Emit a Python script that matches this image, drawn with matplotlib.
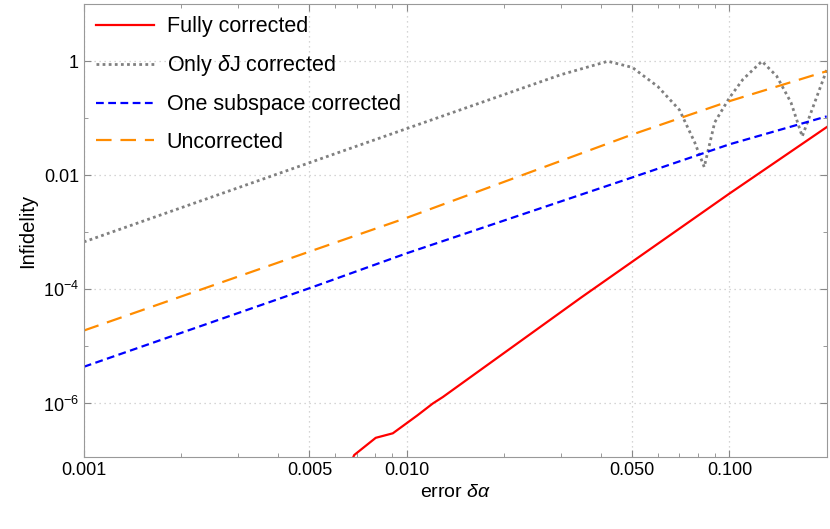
import numpy as np
import matplotlib
matplotlib.use("Agg")
import matplotlib.pyplot as plt
from matplotlib.ticker import FixedLocator, NullFormatter

x_full = [0.0065, 0.00688, 0.00802, 0.00906, 0.0108, 0.01205, 0.01295, 0.0347, 0.1, 0.2]
y_full = [6e-8, 1.25e-7, 2.5e-7, 3.0e-7, 6.2e-7, 1.0e-6, 1.3e-6, 7.2e-5, 4.8e-3, 0.07]

x_dj = [0.001, 0.01, 0.03, 0.042, 0.05, 0.06, 0.07, 0.078, 0.0835, 0.09, 0.1, 0.11, 0.126,
        0.14, 0.155, 0.168, 0.18, 0.2]
y_dj = [6.8e-4, 0.066, 0.58, 1.0, 0.78, 0.36, 0.14, 0.038, 0.014, 0.085, 0.23, 0.48, 1.0,
        0.55, 0.19, 0.048, 0.14, 0.7]

x_one = [0.001, 0.005, 0.01, 0.05, 0.1, 0.2]
y_one = [4.4e-6, 1.05e-4, 4.3e-4, 0.0092, 0.035, 0.108]

x_unc = [0.001, 0.005, 0.01, 0.05, 0.1, 0.2]
y_unc = [1.9e-5, 4.6e-4, 1.8e-3, 0.052, 0.2, 0.67]

xticks = [0.001, 0.005, 0.01, 0.05, 0.1]
xticklabels = ["0.001", "0.005", "0.010", "0.050", "0.100"]
yticks = [1, 0.01, 1e-4, 1e-6]
yticklabels = ["1", "0.01", r"$10^{-4}$", r"$10^{-6}$"]

plt.rcParams["font.family"] = "Liberation Sans"
plt.rcParams["mathtext.fontset"] = "custom"
plt.rcParams["mathtext.rm"] = "Liberation Sans"
plt.rcParams["mathtext.it"] = "Liberation Sans:italic"

fig = plt.figure(figsize=(8.3, 5.29), dpi=100)
ax = fig.add_axes([0.101, 0.136, 0.895, 0.856])
ax.set_xscale("log")
ax.set_yscale("log")
ax.set_xlim(0.001, 0.2)
ax.set_ylim(1.15e-7, 10)

ax.plot(x_full, y_full, color="#ff0000", lw=1.6, label="Fully corrected")
ax.plot(x_dj, y_dj, color="#808080", lw=2, ls=(0, (1, 1.2)), label=r"Only $\delta$J corrected")
ax.plot(x_one, y_one, color="#0000ff", lw=1.6, ls=(0, (3.5, 2)), label="One subspace corrected")
ax.plot(x_unc, y_unc, color="#ff8c00", lw=1.6, ls=(0, (7, 4)), label="Uncorrected")

ax.xaxis.set_major_locator(FixedLocator(xticks))
ax.set_xticklabels(xticklabels)
ax.xaxis.set_minor_locator(FixedLocator([0.002, 0.003, 0.004, 0.006, 0.007, 0.008, 0.009,
                                         0.02, 0.03, 0.04, 0.06, 0.07, 0.08, 0.09, 0.2]))
ax.xaxis.set_minor_formatter(NullFormatter())
ax.yaxis.set_major_locator(FixedLocator(yticks))
ax.set_yticklabels(yticklabels)
ax.yaxis.set_minor_locator(FixedLocator([1e-7, 1e-5, 1e-3, 0.1, 10]))
ax.yaxis.set_minor_formatter(NullFormatter())

ax.grid(True, which="major", color="#c8c8c8", ls=(0, (1, 3)), lw=0.9)
ax.tick_params(which="both", direction="in", top=True, right=True, labelsize=13, color="#888888")
ax.tick_params(which="major", length=5)
ax.tick_params(which="minor", length=3)
for s in ax.spines.values():
    s.set_color("#999999")

ax.set_xlabel(r"error $\delta\alpha$", fontsize=14)
ax.set_ylabel("Infidelity", fontsize=14.5)

ax.legend(loc="upper left", frameon=False, fontsize=15.5, handlelength=2.7, labelspacing=0.75,
          borderaxespad=0.25, borderpad=0.3, handletextpad=0.6)

fig.savefig("out.png", dpi=100)
